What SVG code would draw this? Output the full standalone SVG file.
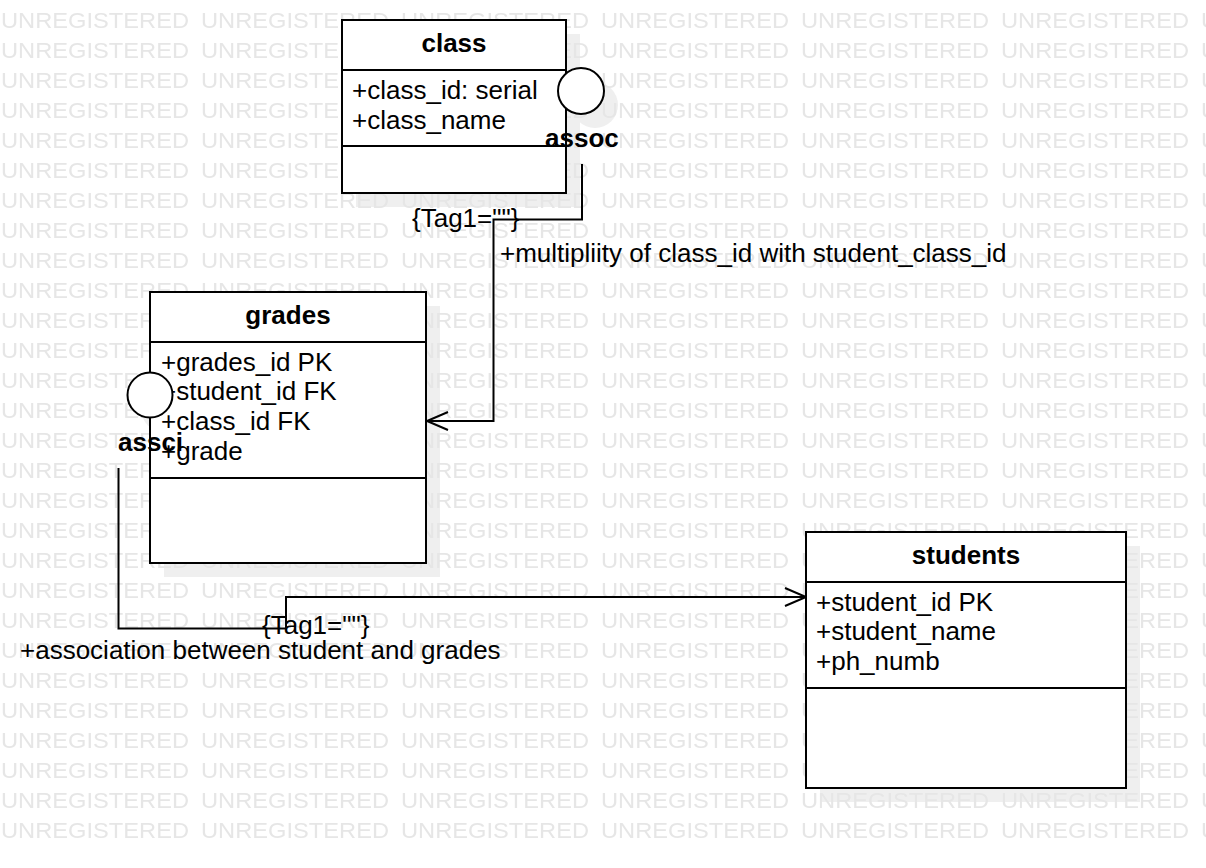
<svg xmlns="http://www.w3.org/2000/svg" width="1206" height="868" viewBox="0 0 1206 868">
<style>
.box{fill:#fff;stroke:#000;stroke-width:2}
.sh{fill:#efefef}
.ln{fill:none;stroke:#000;stroke-width:2}
.t{font-family:"Liberation Sans",Arial,sans-serif;font-size:26px;fill:#000}
.b{font-weight:bold}
.wm{font-family:"Liberation Sans",Arial,sans-serif;font-size:22px;fill:#e6e6e6}
</style>
<defs>
<marker id="open" markerWidth="24" markerHeight="22" refX="22" refY="10" orient="auto" markerUnits="userSpaceOnUse">
<path d="M1,1 L22,10 L1,19" fill="none" stroke="#000" stroke-width="2"/>
</marker>
<pattern id="wmp" width="200" height="30" patternUnits="userSpaceOnUse">
<text class="wm" x="1" y="28" textLength="188" lengthAdjust="spacingAndGlyphs">UNREGISTERED</text>
</pattern>
</defs>
<rect width="1206" height="868" fill="#fff"/>
<g id="shadows">
<rect class="sh" x="356" y="34" width="224" height="173"/>
<circle class="sh" cx="595" cy="105" r="23"/>
<rect class="sh" x="164" y="306" width="276" height="271"/>
<circle class="sh" cx="164" cy="409" r="23"/>
<rect class="sh" x="820" y="546" width="320" height="256"/>
</g>
<rect width="1206" height="845" fill="url(#wmp)"/>
<g id="connectors">
<polyline class="ln" points="582,164 582,219.5 493.5,219.5 493.5,421 427,421" marker-end="url(#open)"/>
<text class="t" x="412" y="227" font-size="25">{Tag1=""}</text>
<text class="t" x="500" y="262">+multipliity of class_id with student_class_id</text>
<polyline class="ln" points="118.5,468 118.5,628.5 286,628.5 286,597 806,597" marker-end="url(#open)"/>
<text class="t" x="262" y="634" font-size="25">{Tag1=""}</text>
<text class="t" x="20" y="659">+association between student and grades</text>
</g>
<g id="class">
<rect class="box" x="342" y="20" width="224" height="173"/>
<line class="ln" x1="342" y1="70" x2="566" y2="70"/>
<line class="ln" x1="342" y1="146" x2="566" y2="146"/>
<text class="t b" x="454" y="52" text-anchor="middle">class</text>
<text class="t" x="352" y="99">+class_id: serial</text>
<text class="t" x="352" y="128.5">+class_name</text>
</g>
<g id="assoc">
<circle class="box" cx="581" cy="91" r="23"/>
<text class="t b" x="545" y="147">assoc</text>
</g>
<g id="grades">
<rect class="box" x="150" y="292" width="276" height="271"/>
<line class="ln" x1="150" y1="342" x2="426" y2="342"/>
<line class="ln" x1="150" y1="478" x2="426" y2="478"/>
<text class="t b" x="288" y="324" text-anchor="middle">grades</text>
<text class="t" x="161" y="370.5">+grades_id PK</text>
<text class="t" x="161" y="400">+student_id FK</text>
<text class="t" x="161" y="430">+class_id FK</text>
<text class="t" x="161" y="460">+grade</text>
</g>
<g id="assci">
<circle class="box" cx="150" cy="395" r="22.5"/>
<text class="t b" x="118" y="451">assci</text>
</g>
<g id="students">
<rect class="box" x="806" y="532" width="320" height="256"/>
<line class="ln" x1="806" y1="582" x2="1126" y2="582"/>
<line class="ln" x1="806" y1="688" x2="1126" y2="688"/>
<text class="t b" x="966" y="564" text-anchor="middle">students</text>
<text class="t" x="816" y="611">+student_id PK</text>
<text class="t" x="816" y="640">+student_name</text>
<text class="t" x="816" y="669.5">+ph_numb</text>
</g>
</svg>
